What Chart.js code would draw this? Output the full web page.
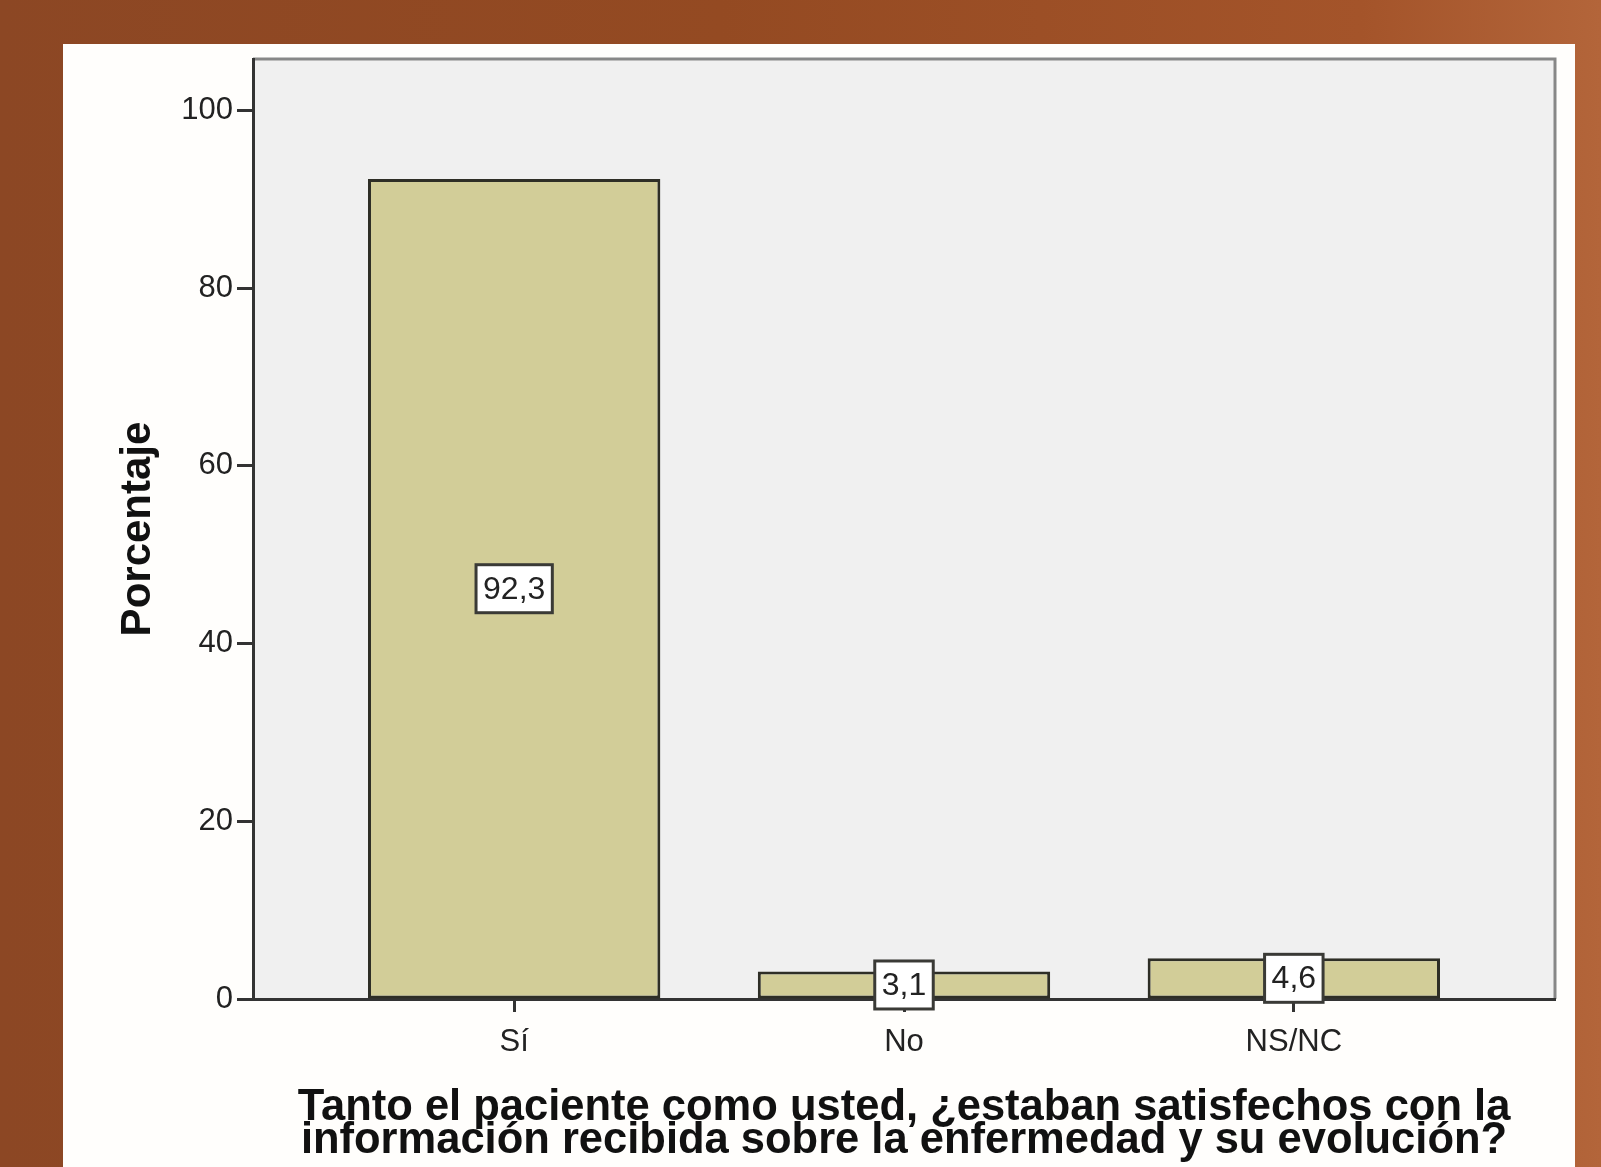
<!DOCTYPE html>
<html lang="es">
<head>
<meta charset="utf-8">
<title>Satisfacción con la información recibida</title>
<script src="https://cdn.jsdelivr.net/npm/chart.js@4/dist/chart.umd.min.js"></script>
<style>
  html, body { margin: 0; padding: 0; }
  body {
    width: 1601px;
    height: 1167px;
    overflow: hidden;
    background: linear-gradient(90deg, #8c4724 0%, #944a22 45%, #a4542a 85%, #b3653a 100%);
    position: relative;
  }
  #panel {
    position: absolute;
    left: 63px;
    top: 44px;
    width: 1512px;
    height: 1123px;
    background: #fffefc;
  }
  #chart { display: block; }
</style>
</head>
<body>
<div id="panel">
  <canvas id="chart" width="1512" height="1123"></canvas>
</div>
<script>
// Data
const categories = ['Sí', 'No', 'NS/NC'];
const percentages = [92.3, 3.1, 4.6];
const yTicks = [0, 20, 40, 60, 80, 100];
const xTitle = [
    'Tanto el paciente como usted, ¿estaban satisfechos con la',
    'información recibida sobre la enfermedad y su evolución?'
];

const FONT = '"Liberation Sans", Arial, sans-serif';

// Grey plot background and top/right frame
const plotFrame = {
    id: 'plotFrame',
    beforeDraw(chart) {
        const { ctx, chartArea: a } = chart;
        ctx.save();
        ctx.fillStyle = '#f0f0f0';
        ctx.fillRect(a.left, a.top, a.right - a.left, a.bottom - a.top);
        ctx.strokeStyle = '#878787';
        ctx.lineWidth = 3;
        ctx.beginPath();
        ctx.moveTo(a.left, a.top);
        ctx.lineTo(a.right, a.top);
        ctx.lineTo(a.right, a.bottom);
        ctx.stroke();
        ctx.restore();
    }
};

// Boxed value labels in the middle of each bar
const boxLabels = {
    id: 'boxLabels',
    afterDatasetsDraw(chart) {
        const { ctx } = chart;
        const meta = chart.getDatasetMeta(0);
        ctx.save();
        ctx.font = '32px ' + FONT;
        ctx.textAlign = 'center';
        ctx.textBaseline = 'middle';
        meta.data.forEach((bar, i) => {
            const text = percentages[i].toFixed(1).replace('.', ',');
            const w = ctx.measureText(text).width + 14;
            const h = 48;
            const cy = (bar.y + bar.base) / 2;
            ctx.fillStyle = '#ffffff';
            ctx.fillRect(bar.x - w / 2, cy - h / 2, w, h);
            ctx.strokeStyle = '#3a3a36';
            ctx.lineWidth = 3;
            ctx.strokeRect(bar.x - w / 2, cy - h / 2, w, h);
            ctx.fillStyle = '#222222';
            ctx.fillText(text, bar.x, cy + 1);
        });
        ctx.restore();
    }
};

const ctx = document.getElementById('chart').getContext('2d');

new Chart(ctx, {
    type: 'bar',
    data: {
        datasets: [{
            label: 'Porcentaje',
            data: percentages.map((v, i) => ({ x: i, y: v })),
            backgroundColor: '#d2cd98',
            borderColor: '#2e2e26',
            borderWidth: 3,
            borderSkipped: false,
            barPercentage: 0.75,
            categoryPercentage: 1.0
        }]
    },
    options: {
        responsive: false,
        animation: false,
        devicePixelRatio: 1,
        layout: {
            padding: { top: 15, right: 20, left: 0, bottom: 0 }
        },
        plugins: {
            legend: { display: false },
            tooltip: { enabled: false }
        },
        scales: {
            x: {
                type: 'linear',
                min: -0.67,
                max: 2.67,
                offset: false,
                afterBuildTicks: (scale) => {
                    scale.ticks = categories.map((c, i) => ({ value: i }));
                },
                afterFit: (scale) => {
                    scale.height = 168;
                    scale.paddingLeft = 0;
                    scale.paddingRight = 0;
                },
                grid: {
                    offset: false,
                    drawOnChartArea: false,
                    drawTicks: true,
                    tickLength: 13,
                    tickWidth: 3,
                    tickColor: '#333333'
                },
                border: { display: true, color: '#333333', width: 3 },
                ticks: {
                    padding: 12,
                    color: '#222222',
                    font: { family: FONT, size: 31 },
                    callback: (value) => categories[value]
                },
                title: {
                    display: true,
                    text: xTitle,
                    color: '#111111',
                    font: { family: FONT, size: 43.5, weight: 'bold', lineHeight: 0.76 },
                    padding: { top: 0, bottom: 9 }
                }
            },
            y: {
                min: 0,
                max: 105.8,
                afterBuildTicks: (scale) => {
                    scale.ticks = yTicks.map(v => ({ value: v }));
                },
                afterFit: (scale) => {
                    scale.width = 190;
                    scale.paddingTop = 0;
                    scale.paddingBottom = 0;
                },
                grid: {
                    drawOnChartArea: false,
                    drawTicks: true,
                    tickLength: 16,
                    tickWidth: 3,
                    tickColor: '#333333'
                },
                border: { display: true, color: '#333333', width: 3 },
                ticks: {
                    padding: 4,
                    color: '#222222',
                    font: { family: FONT, size: 31 }
                },
                title: {
                    display: true,
                    text: 'Porcentaje',
                    color: '#111111',
                    font: { family: FONT, size: 42, weight: 'bold' },
                    padding: { top: 50, bottom: 0 }
                }
            }
        }
    },
    plugins: [plotFrame, boxLabels]
});
</script>
</body>
</html>
